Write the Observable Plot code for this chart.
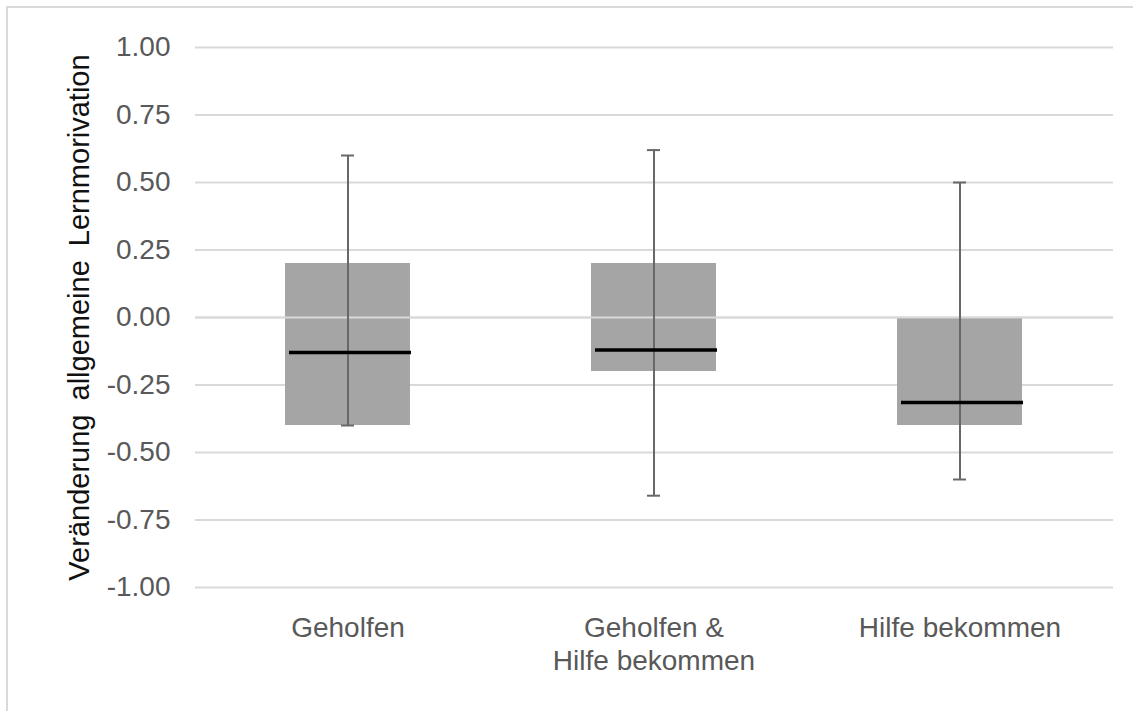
<!DOCTYPE html>
<html>
<head>
<meta charset="utf-8">
<script src="https://cdn.jsdelivr.net/npm/d3@7"></script>
<script src="https://cdn.jsdelivr.net/npm/@observablehq/plot@0.6"></script>
<style>
  body { margin: 0; background: #fff; }
  #chart { position: relative; width: 1133px; height: 711px; overflow: hidden; }
  #border {
    position: absolute; left: 6px; top: 6px; width: 1140px; height: 720px;
    border-left: 2px solid #d9d9d9; border-top: 2px solid #d9d9d9; z-index: 2;
    pointer-events: none;
  }
  .y-title text { word-spacing: 6px; }
</style>
</head>
<body>
<div id="chart"><div id="border"></div></div>
<script>
// Box plot summary per group
const groups = ["Geholfen", "Geholfen &\nHilfe bekommen", "Hilfe bekommen"];
const q1 = [-0.40, -0.20, -0.40];
const q3 = [0.20, 0.20, 0.00];
const medians = [-0.13, -0.12, -0.315];
const whiskerLow = [-0.40, -0.66, -0.60];
const whiskerHigh = [0.60, 0.62, 0.50];
const yTicks = [-1, -0.75, -0.5, -0.25, 0, 0.25, 0.5, 0.75, 1];
const yLabel = "Veränderung allgemeine Lernmorivation";

const rows = groups.map((g, i) => ({
  group: g, q1: q1[i], q3: q3[i], median: medians[i], lo: whiskerLow[i], hi: whiskerHigh[i]
}));

const whisker = { stroke: "#686868", strokeWidth: 2 };

const chart = Plot.plot({
  width: 1133,
  height: 711,
  marginLeft: 195,
  marginRight: 20,
  marginTop: 47,
  marginBottom: 124,
  style: "font-family: 'Liberation Sans', Arial, sans-serif; font-size: 28px; color: #595959; background: transparent;",
  x: { domain: groups, paddingInner: 0.59, paddingOuter: 0.295, label: null },
  y: { domain: [-1, 1], label: null },
  marks: [
    Plot.ruleY(yTicks, { stroke: "#d9d9d9", strokeWidth: 2 }),
    Plot.barY(rows, { x: "group", y1: "q1", y2: "q3", fill: "#a5a5a5" }),
    Plot.ruleY([0], { stroke: "#d9d9d9", strokeWidth: 2 }),
    Plot.ruleX(rows, { x: "group", y1: "lo", y2: "hi", ...whisker }),
    Plot.tickY(rows, { x: "group", y: "hi", insetLeft: 56, insetRight: 56, ...whisker }),
    Plot.tickY(rows, { x: "group", y: "lo", insetLeft: 56, insetRight: 56, ...whisker }),
    Plot.tickY(rows, { x: "group", y: "median", stroke: "#000", strokeWidth: 3.5, insetLeft: 3, dx: 1 }),
    Plot.axisY({ ticks: yTicks, tickFormat: d => d.toFixed(2), tickSize: 0, tickPadding: 25, label: null, fill: "#595959" }),
    Plot.axisX({ tickSize: 0, tickPadding: 26, label: null, lineHeight: 1.19, fill: "#595959" }),
    Plot.text([yLabel], {
      text: d => d, frameAnchor: "left", textAnchor: "middle", rotate: -90,
      dx: -116, fontSize: 29, fill: "#111", className: "y-title"
    })
  ]
});

document.getElementById("chart").appendChild(chart);
</script>
</body>
</html>
